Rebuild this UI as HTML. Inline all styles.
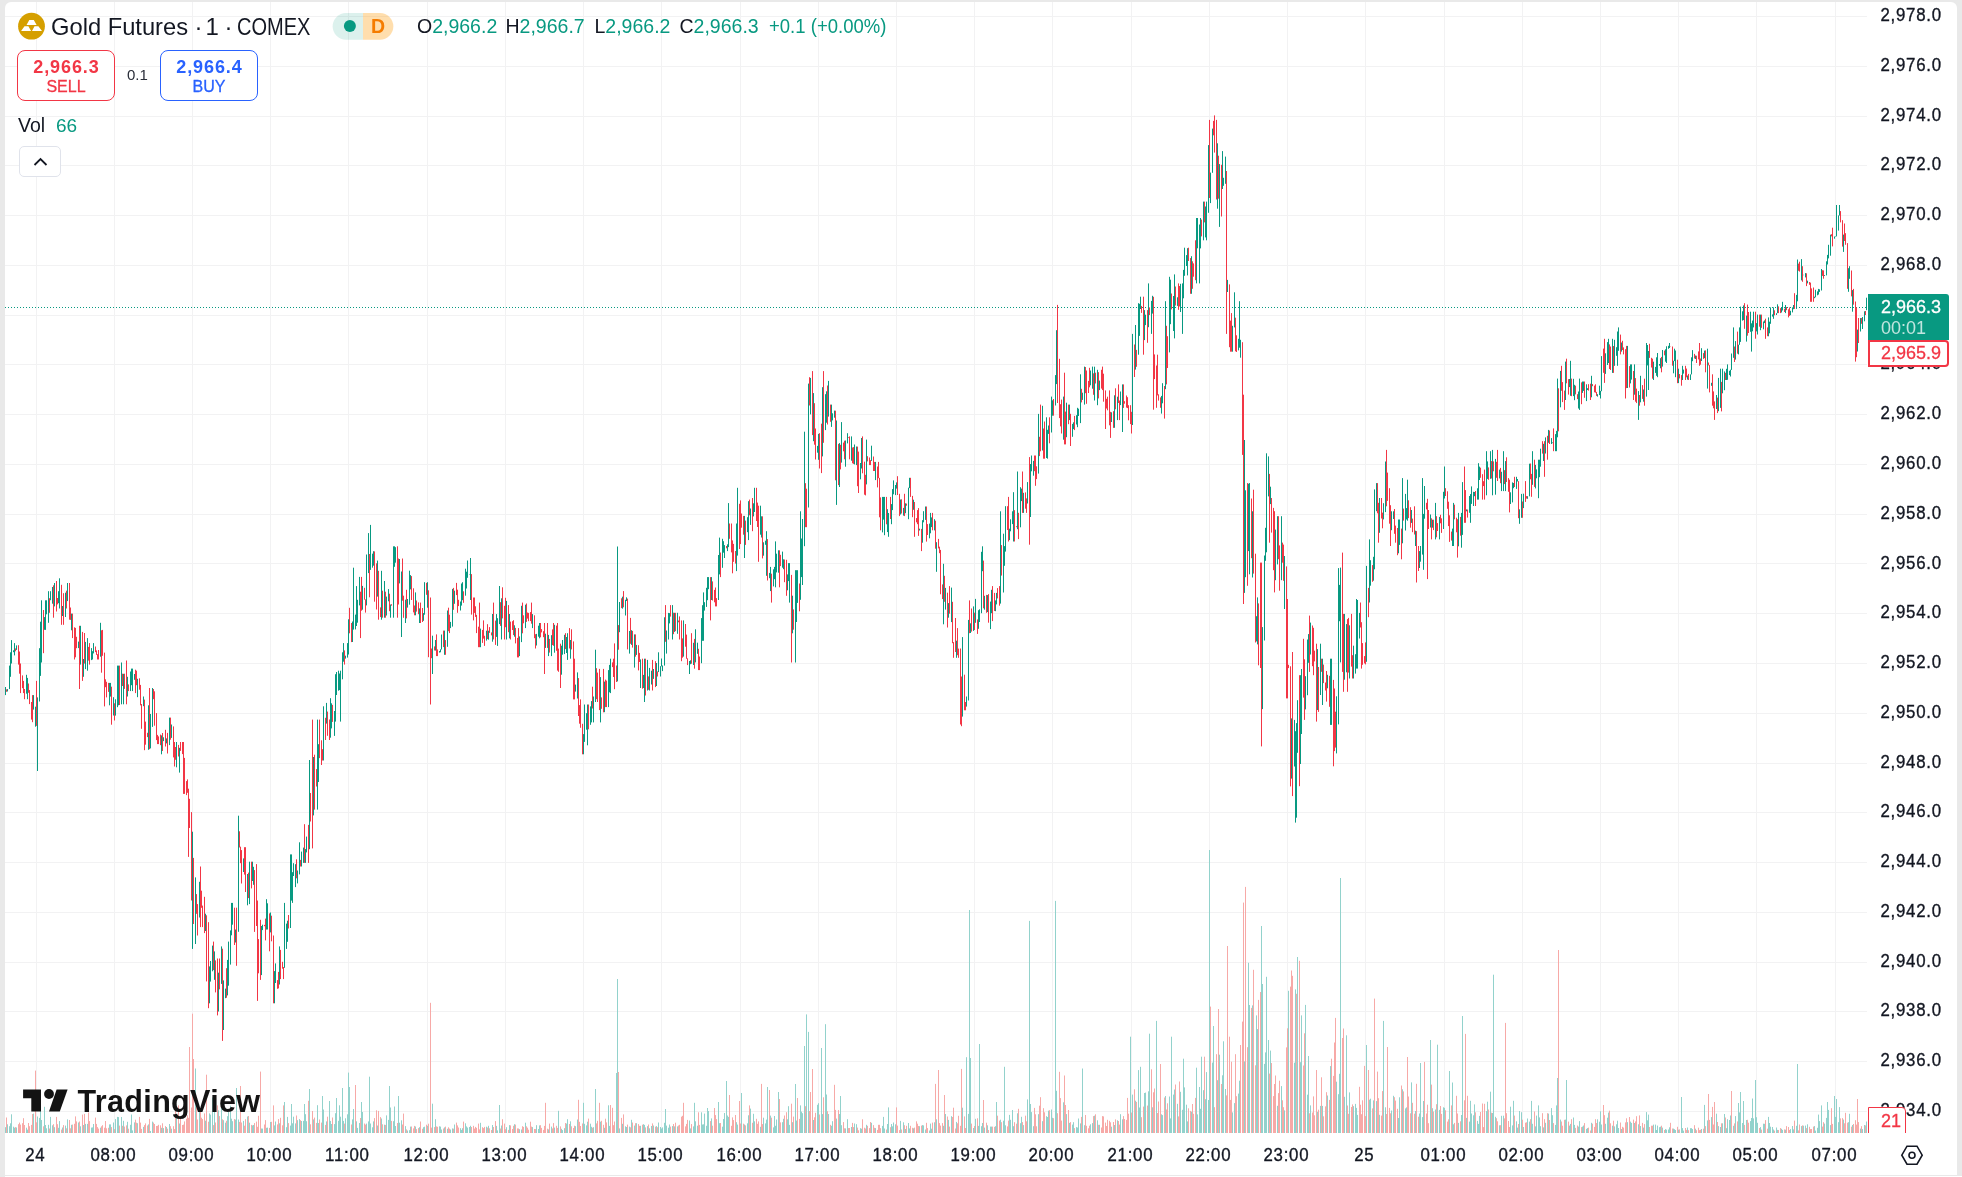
<!DOCTYPE html>
<html><head><meta charset="utf-8"><title>Gold Futures · 1 · COMEX</title>
<style>
html,body{margin:0;padding:0;width:1962px;height:1177px;overflow:hidden;background:#e9e9e9;font-family:"Liberation Sans",Arial,sans-serif;-webkit-font-smoothing:antialiased;}
#txt{position:absolute;left:0;top:0;width:1962px;height:1177px;will-change:transform;}
#panel{position:absolute;left:5px;top:2px;width:1952px;height:1173px;background:#fff;border-radius:6px 6px 0 0;}
#bot{position:absolute;left:5px;top:1176px;width:1957px;height:1px;background:#fff;}
svg{position:absolute;left:0;top:0;}
.pl{position:absolute;left:1868px;width:73.8px;text-align:right;font-size:18px;line-height:22px;color:#131722;white-space:nowrap;-webkit-text-stroke:0.35px #131722;letter-spacing:0.8px;transform:scaleX(0.935);transform-origin:100% 0;}
.tl{position:absolute;top:1144px;width:80px;text-align:center;font-size:18px;line-height:22px;color:#131722;-webkit-text-stroke:0.35px #131722;letter-spacing:0.8px;text-indent:0.8px;transform:scaleX(0.935);transform-origin:50% 0;}
.t{position:absolute;white-space:nowrap;color:#131722;line-height:1;}
.g{color:#089981}
.box{position:absolute;box-sizing:border-box;}
</style></head><body>
<div id="panel"></div><div id="bot"></div>
<svg width="1962" height="1177" viewBox="0 0 1962 1177">
<path d="M36.5 2V1133M114.5 2V1133M192.5 2V1133M270.5 2V1133M348.5 2V1133M427.5 2V1133M505.5 2V1133M583.5 2V1133M661.5 2V1133M740.5 2V1133M818.5 2V1133M896.5 2V1133M974.5 2V1133M1052.5 2V1133M1131.5 2V1133M1209.5 2V1133M1287.5 2V1133M1365.5 2V1133M1444.5 2V1133M1522.5 2V1133M1600.5 2V1133M1678.5 2V1133M1756.5 2V1133M1835.5 2V1133" stroke="#f2f2f3" stroke-width="1" fill="none"/>
<path d="M5 16.5H1867M5 66.5H1867M5 116.5H1867M5 165.5H1867M5 215.5H1867M5 265.5H1867M5 315.5H1867M5 364.5H1867M5 414.5H1867M5 464.5H1867M5 514.5H1867M5 563.5H1867M5 613.5H1867M5 663.5H1867M5 713.5H1867M5 763.5H1867M5 812.5H1867M5 862.5H1867M5 912.5H1867M5 962.5H1867M5 1011.5H1867M5 1061.5H1867M5 1111.5H1867" stroke="#f2f2f3" stroke-width="1" fill="none"/>
<path d="M5.5 1127.2V1133M7.5 1124.3V1133M9.5 1126.2V1133M10.5 1123.3V1133M11.5 1114.3V1133M13.5 1126.7V1133M14.5 1127.7V1133M16.5 1127.5V1133M26.5 1127.7V1133M27.5 1129.6V1133M33.5 1113.6V1133M37.5 1116.5V1133M39.5 1117.9V1133M40.5 1107.1V1133M41.5 1120V1133M44.5 1106.8V1133M45.5 1125V1133M46.5 1128.3V1133M48.5 1124.8V1133M50.5 1116.9V1133M52.5 1125.3V1133M54.5 1127.2V1133M58.5 1127.8V1133M59.5 1121.1V1133M62.5 1127.5V1133M65.5 1125.6V1133M67.5 1119.4V1133M71.5 1124.8V1133M78.5 1122.5V1133M80.5 1126.3V1133M83.5 1125V1133M85.5 1123.9V1133M87.5 1123.9V1133M91.5 1127.6V1133M92.5 1127.4V1133M93.5 1124V1133M100.5 1127.7V1133M109.5 1124.4V1133M110.5 1124.4V1133M113.5 1122.5V1133M115.5 1119.1V1133M117.5 1116.9V1133M118.5 1117.1V1133M121.5 1117V1133M123.5 1120.8V1133M127.5 1121.8V1133M130.5 1124.8V1133M131.5 1114.5V1133M132.5 1130.4V1133M134.5 1122.4V1133M137.5 1123.2V1133M143.5 1126.9V1133M148.5 1124.4V1133M150.5 1131V1133M152.5 1121.6V1133M161.5 1127.8V1133M163.5 1128.1V1133M166.5 1127V1133M169.5 1124V1133M171.5 1128.7V1133M176.5 1118.1V1133M179.5 1123.5V1133M195.5 1068.5V1133M199.5 1108.4V1133M205.5 1120.7V1133M209.5 1113.4V1133M210.5 1114.6V1133M212.5 1097.5V1133M214.5 1112V1133M218.5 1110.3V1133M221.5 1103.4V1133M223.5 1120.2V1133M225.5 1122.7V1133M227.5 1116.2V1133M228.5 1111.8V1133M230.5 1105.7V1133M231.5 1118.7V1133M232.5 1121.2V1133M235.5 1119.6V1133M236.5 1088V1133M238.5 1119.5V1133M243.5 1120.9V1133M247.5 1116.5V1133M249.5 1122.7V1133M252.5 1125.4V1133M253.5 1125V1133M261.5 1128.5V1133M262.5 1128.6V1133M266.5 1127.8V1133M267.5 1127.6V1133M270.5 1122V1133M274.5 1125.4V1133M275.5 1121.5V1133M279.5 1123.3V1133M284.5 1102V1133M286.5 1127.2V1133M287.5 1116.9V1133M290.5 1125.6V1133M291.5 1104V1133M292.5 1123.3V1133M293.5 1116.7V1133M295.5 1123.4V1133M297.5 1120.2V1133M299.5 1119.1V1133M301.5 1121V1133M303.5 1120.9V1133M304.5 1104V1133M305.5 1114.2V1133M306.5 1121.2V1133M309.5 1089V1133M313.5 1119.4V1133M317.5 1105.2V1133M318.5 1123V1133M322.5 1096V1133M323.5 1109.5V1133M326.5 1121.4V1133M329.5 1101V1133M330.5 1120.9V1133M331.5 1124V1133M334.5 1124.1V1133M335.5 1113.2V1133M336.5 1098V1133M338.5 1120.8V1133M339.5 1105.3V1133M340.5 1116.7V1133M342.5 1088V1133M343.5 1120.9V1133M345.5 1118.3V1133M347.5 1114.3V1133M348.5 1072.6V1133M349.5 1087V1133M352.5 1119.4V1133M353.5 1109V1133M356.5 1121.3V1133M357.5 1127.9V1133M359.5 1123V1133M361.5 1102V1133M362.5 1112V1133M366.5 1123.6V1133M368.5 1121.4V1133M369.5 1076.7V1133M370.5 1123.5V1133M372.5 1127.3V1133M373.5 1121.4V1133M377.5 1125.5V1133M381.5 1118.5V1133M384.5 1124.7V1133M386.5 1115.4V1133M388.5 1119.9V1133M389.5 1086V1133M390.5 1107.5V1133M393.5 1121.2V1133M394.5 1106.5V1133M395.5 1126V1133M398.5 1096V1133M399.5 1122.7V1133M401.5 1120.3V1133M405.5 1126.1V1133M407.5 1130.5V1133M409.5 1130.2V1133M410.5 1126.6V1133M415.5 1126.5V1133M419.5 1127.2V1133M423.5 1127.2V1133M424.5 1126.7V1133M427.5 1125.8V1133M432.5 1103.7V1133M435.5 1119.2V1133M439.5 1126.3V1133M440.5 1126.6V1133M441.5 1129.5V1133M444.5 1127.4V1133M447.5 1128.8V1133M450.5 1129.5V1133M452.5 1128.4V1133M454.5 1124.5V1133M460.5 1128.2V1133M461.5 1129.9V1133M462.5 1128.2V1133M465.5 1123.3V1133M466.5 1126.4V1133M467.5 1127.6V1133M469.5 1127V1133M470.5 1125.8V1133M480.5 1122.8V1133M486.5 1126.7V1133M488.5 1125.8V1133M492.5 1125V1133M496.5 1125.9V1133M497.5 1130.4V1133M499.5 1105V1133M501.5 1125.5V1133M506.5 1127.2V1133M509.5 1125.1V1133M514.5 1124.2V1133M519.5 1129.2V1133M521.5 1129.5V1133M525.5 1122.7V1133M532.5 1127.1V1133M536.5 1125.2V1133M538.5 1129V1133M539.5 1125.4V1133M548.5 1129.4V1133M551.5 1126.6V1133M554.5 1127.6V1133M558.5 1110.8V1133M561.5 1128.8V1133M562.5 1130.1V1133M564.5 1128.2V1133M566.5 1123.6V1133M567.5 1119.2V1133M570.5 1121.3V1133M575.5 1126.2V1133M577.5 1119.5V1133M583.5 1102.8V1133M584.5 1123.8V1133M586.5 1125.4V1133M587.5 1121.7V1133M590.5 1123.7V1133M591.5 1126.8V1133M593.5 1127.2V1133M595.5 1089V1133M600.5 1121.7V1133M604.5 1127.8V1133M608.5 1105.3V1133M609.5 1125.9V1133M616.5 1073V1133M617.5 979V1133M619.5 1128.4V1133M622.5 1123.8V1133M625.5 1126.3V1133M626.5 1127V1133M629.5 1126.6V1133M631.5 1119.8V1133M634.5 1125.6V1133M636.5 1123.2V1133M640.5 1125.8V1133M643.5 1124.2V1133M644.5 1124.9V1133M647.5 1126.2V1133M649.5 1128.3V1133M651.5 1126V1133M653.5 1125.5V1133M656.5 1126.1V1133M658.5 1122.5V1133M660.5 1127V1133M661.5 1128.5V1133M662.5 1127.4V1133M664.5 1122.8V1133M665.5 1109V1133M666.5 1125.6V1133M668.5 1127.7V1133M669.5 1124.5V1133M672.5 1126.1V1133M674.5 1126.4V1133M677.5 1126.4V1133M689.5 1120.5V1133M690.5 1128.4V1133M693.5 1126.4V1133M694.5 1102.8V1133M695.5 1121.3V1133M697.5 1125.7V1133M701.5 1112.3V1133M702.5 1124.5V1133M703.5 1124.3V1133M704.5 1113.6V1133M706.5 1125.8V1133M707.5 1108V1133M708.5 1111V1133M711.5 1118.4V1133M718.5 1102V1133M719.5 1123.2V1133M722.5 1126.7V1133M723.5 1119V1133M724.5 1113V1133M726.5 1081V1133M727.5 1115.5V1133M728.5 1116.9V1133M736.5 1122.2V1133M737.5 1124.6V1133M741.5 1093V1133M744.5 1124.5V1133M747.5 1123.3V1133M748.5 1115.3V1133M750.5 1108.6V1133M753.5 1113.8V1133M754.5 1121.3V1133M760.5 1126.8V1133M763.5 1117.7V1133M765.5 1123.4V1133M766.5 1119.6V1133M767.5 1087V1133M770.5 1115.6V1133M773.5 1127.4V1133M774.5 1116V1133M775.5 1125.8V1133M776.5 1119.5V1133M778.5 1092V1133M782.5 1122.2V1133M783.5 1118.8V1133M787.5 1119.3V1133M788.5 1106.2V1133M789.5 1124.9V1133M792.5 1122.2V1133M795.5 1084V1133M796.5 1120.5V1133M800.5 1105.4V1133M801.5 1111.6V1133M802.5 1113.2V1133M804.5 1046V1133M806.5 1014.4V1133M808.5 1031.9V1133M813.5 1120V1133M817.5 1104.8V1133M818.5 1103.2V1133M821.5 1048V1133M822.5 1114.1V1133M825.5 1024.2V1133M826.5 1094.5V1133M828.5 1114V1133M831.5 1125.8V1133M832.5 1121.2V1133M836.5 1118.6V1133M839.5 1114V1133M840.5 1096V1133M841.5 1125.2V1133M845.5 1128.4V1133M847.5 1119.2V1133M851.5 1127V1133M854.5 1123.5V1133M856.5 1124.2V1133M860.5 1128.2V1133M861.5 1128.7V1133M866.5 1124.8V1133M871.5 1122.8V1133M875.5 1128.1V1133M882.5 1125.9V1133M883.5 1116.9V1133M884.5 1128.5V1133M887.5 1124V1133M888.5 1107.4V1133M891.5 1124V1133M892.5 1126.3V1133M893.5 1122.5V1133M895.5 1124.3V1133M900.5 1120.9V1133M903.5 1122.3V1133M905.5 1129V1133M908.5 1123V1133M909.5 1128.4V1133M913.5 1128.3V1133M919.5 1126.2V1133M922.5 1125.1V1133M923.5 1125.4V1133M925.5 1129.5V1133M929.5 1130.5V1133M930.5 1123.6V1133M931.5 1128.7V1133M934.5 1122.3V1133M936.5 1119.3V1133M943.5 1125.8V1133M945.5 1114V1133M948.5 1119.9V1133M951.5 1116.2V1133M956.5 1121.9V1133M962.5 1107.7V1133M966.5 1057.2V1133M968.5 1113.9V1133M969.5 910V1133M970.5 1058V1133M973.5 1128V1133M975.5 1118.8V1133M978.5 1125.9V1133M979.5 1044V1133M981.5 1126.2V1133M982.5 1123V1133M984.5 1127.6V1133M987.5 1125.3V1133M990.5 1126.6V1133M991.5 1126.6V1133M995.5 1126.2V1133M996.5 1102V1133M1000.5 1119.7V1133M1003.5 1120.7V1133M1004.5 1066.8V1133M1005.5 1125.3V1133M1009.5 1114.9V1133M1010.5 1119.8V1133M1012.5 1110V1133M1013.5 1126.2V1133M1017.5 1113.3V1133M1020.5 1123.2V1133M1021.5 1116.8V1133M1023.5 1125.1V1133M1027.5 1099.4V1133M1029.5 920.9V1133M1030.5 1104V1133M1031.5 1112.1V1133M1033.5 1126.2V1133M1038.5 1114.2V1133M1042.5 1121.2V1133M1046.5 1116.2V1133M1047.5 1117V1133M1048.5 1110.7V1133M1051.5 1109.5V1133M1052.5 1117.8V1133M1055.5 900.9V1133M1056.5 1090.8V1133M1063.5 1102.3V1133M1066.5 1114.1V1133M1069.5 1122.9V1133M1072.5 1124.6V1133M1073.5 1122.2V1133M1076.5 1127.1V1133M1077.5 1127.5V1133M1078.5 1118.5V1133M1080.5 1123.4V1133M1082.5 1068.5V1133M1084.5 1125.2V1133M1090.5 1124.3V1133M1092.5 1123.1V1133M1094.5 1115.7V1133M1097.5 1120.3V1133M1099.5 1124.8V1133M1111.5 1126.7V1133M1114.5 1125V1133M1117.5 1120.3V1133M1120.5 1114.2V1133M1122.5 1119.3V1133M1130.5 1036.7V1133M1132.5 1094.6V1133M1135.5 1100.7V1133M1138.5 1070.1V1133M1139.5 1107.5V1133M1140.5 1066.8V1133M1144.5 1093V1133M1145.5 1092.6V1133M1148.5 1091.3V1133M1149.5 1033.7V1133M1152.5 1107.3V1133M1156.5 1020.9V1133M1161.5 1114.3V1133M1162.5 1115.1V1133M1165.5 1096V1133M1169.5 1096.5V1133M1170.5 1118.4V1133M1171.5 1036.7V1133M1173.5 1094.6V1133M1174.5 1089.5V1133M1177.5 1103.8V1133M1180.5 1091.8V1133M1182.5 1109.8V1133M1183.5 1058.7V1133M1184.5 1087.4V1133M1186.5 1104.7V1133M1187.5 1121.4V1133M1191.5 1111.7V1133M1196.5 1067.7V1133M1197.5 1114.4V1133M1199.5 1087V1133M1200.5 1108.8V1133M1201.5 1056.7V1133M1203.5 1090.2V1133M1205.5 1099.2V1133M1206.5 1072.1V1133M1208.5 1100V1133M1209.5 850V1133M1212.5 1062.6V1133M1213.5 1026V1133M1217.5 1080.2V1133M1219.5 1054.7V1133M1222.5 1075.3V1133M1223.5 1041.3V1133M1225.5 1089V1133M1232.5 1112.4V1133M1234.5 1103.1V1133M1238.5 1093.6V1133M1239.5 1080.7V1133M1244.5 1061.4V1133M1248.5 962.8V1133M1249.5 1005V1133M1252.5 1005.4V1133M1256.5 1015.4V1133M1257.5 1029.1V1133M1261.5 926V1133M1262.5 984V1133M1264.5 1063.9V1133M1265.5 1052.4V1133M1266.5 976.8V1133M1268.5 1040V1133M1270.5 1050.6V1133M1277.5 1105.8V1133M1281.5 1086.1V1133M1284.5 1110.4V1133M1288.5 990.8V1133M1294.5 1062.7V1133M1295.5 989.4V1133M1297.5 957V1133M1300.5 1062.2V1133M1301.5 1015.4V1133M1305.5 1004.9V1133M1307.5 1094.7V1133M1308.5 1056V1133M1310.5 1105.4V1133M1317.5 1111.8V1133M1320.5 1105.9V1133M1322.5 1105.9V1133M1327.5 1095.5V1133M1330.5 1066.1V1133M1336.5 1081.7V1133M1338.5 1094.2V1133M1339.5 1073.8V1133M1340.5 878V1133M1344.5 1096.8V1133M1346.5 1035.3V1133M1349.5 1092.4V1133M1353.5 1106.1V1133M1355.5 1103.9V1133M1356.5 1107.9V1133M1357.5 1114.9V1133M1366.5 1045V1133M1369.5 1099.7V1133M1370.5 1098.7V1133M1373.5 1100.4V1133M1376.5 1101.1V1133M1379.5 1114.8V1133M1383.5 1020.9V1133M1385.5 1107.3V1133M1391.5 1110.5V1133M1393.5 1095.8V1133M1398.5 1118V1133M1399.5 1097.3V1133M1402.5 1089.3V1133M1405.5 1108.4V1133M1406.5 1107.4V1133M1411.5 1082.4V1133M1415.5 1111V1133M1419.5 1113.5V1133M1420.5 1063V1133M1422.5 1117.1V1133M1423.5 1101V1133M1430.5 1040V1133M1432.5 1108.2V1133M1435.5 1109.5V1133M1437.5 1044.7V1133M1439.5 1109.9V1133M1443.5 1107.3V1133M1444.5 1107.8V1133M1449.5 1071V1133M1452.5 1082.5V1133M1453.5 1124.3V1133M1458.5 1122.9V1133M1461.5 1115V1133M1462.5 1016V1133M1466.5 1117.9V1133M1469.5 1121.6V1133M1470.5 1100.8V1133M1471.5 1113.5V1133M1473.5 1115.3V1133M1474.5 1104.4V1133M1477.5 1120.9V1133M1478.5 1123.9V1133M1479.5 1115.9V1133M1486.5 1111.1V1133M1487.5 1101.7V1133M1490.5 1091.7V1133M1492.5 1113V1133M1493.5 974.7V1133M1495.5 1116.8V1133M1499.5 1125.3V1133M1501.5 1115.8V1133M1503.5 1115.7V1133M1510.5 1106.7V1133M1512.5 1125.4V1133M1513.5 1100.8V1133M1516.5 1121.3V1133M1517.5 1127.6V1133M1519.5 1111V1133M1521.5 1112.2V1133M1523.5 1127V1133M1527.5 1118.5V1133M1529.5 1121.6V1133M1531.5 1100.9V1133M1532.5 1123.8V1133M1535.5 1126.4V1133M1536.5 1115.6V1133M1538.5 1105.4V1133M1539.5 1117.4V1133M1540.5 1126.2V1133M1543.5 1127.4V1133M1545.5 1122.8V1133M1548.5 1113.6V1133M1551.5 1108.1V1133M1552.5 1115.2V1133M1555.5 1124.9V1133M1556.5 1105.4V1133M1557.5 1078V1133M1560.5 1119.6V1133M1565.5 1119.6V1133M1566.5 1080V1133M1569.5 1125.6V1133M1570.5 1123.9V1133M1573.5 1117.5V1133M1574.5 1124.9V1133M1578.5 1126.6V1133M1579.5 1121.1V1133M1582.5 1126.6V1133M1583.5 1125.5V1133M1586.5 1128.9V1133M1587.5 1128.1V1133M1591.5 1122.8V1133M1597.5 1119.3V1133M1599.5 1121.7V1133M1600.5 1111.3V1133M1601.5 1124.5V1133M1605.5 1123.8V1133M1607.5 1117.7V1133M1608.5 1112.6V1133M1612.5 1125.7V1133M1614.5 1126.4V1133M1616.5 1124.3V1133M1617.5 1120.7V1133M1618.5 1128V1133M1621.5 1129V1133M1627.5 1122.2V1133M1630.5 1121.6V1133M1631.5 1122.9V1133M1634.5 1123V1133M1638.5 1124.3V1133M1640.5 1126V1133M1643.5 1127.6V1133M1646.5 1112.1V1133M1647.5 1120.3V1133M1648.5 1114.6V1133M1653.5 1124.6V1133M1655.5 1124.6V1133M1656.5 1130V1133M1657.5 1125.6V1133M1659.5 1127.2V1133M1660.5 1126.7V1133M1662.5 1127.6V1133M1665.5 1129.1V1133M1666.5 1129.7V1133M1668.5 1129.5V1133M1669.5 1127.3V1133M1673.5 1128.6V1133M1674.5 1129.2V1133M1675.5 1130V1133M1678.5 1129.7V1133M1681.5 1097V1133M1682.5 1128.1V1133M1683.5 1130.6V1133M1687.5 1127.5V1133M1690.5 1128.2V1133M1691.5 1128.2V1133M1692.5 1129.1V1133M1695.5 1128.7V1133M1701.5 1129V1133M1704.5 1104.9V1133M1707.5 1120.4V1133M1711.5 1117.1V1133M1716.5 1113.7V1133M1718.5 1126.1V1133M1720.5 1127V1133M1722.5 1123.3V1133M1724.5 1114V1133M1726.5 1128.2V1133M1727.5 1119.2V1133M1729.5 1120V1133M1730.5 1115.5V1133M1733.5 1125.8V1133M1735.5 1116.1V1133M1738.5 1103V1133M1739.5 1112.4V1133M1740.5 1092V1133M1742.5 1123V1133M1743.5 1101V1133M1746.5 1120V1133M1750.5 1121.1V1133M1751.5 1118V1133M1752.5 1098.5V1133M1753.5 1118.4V1133M1755.5 1080V1133M1756.5 1117.2V1133M1757.5 1122.8V1133M1760.5 1127.1V1133M1763.5 1123.7V1133M1764.5 1123.8V1133M1768.5 1116.9V1133M1769.5 1123V1133M1770.5 1126.7V1133M1772.5 1127V1133M1773.5 1129.5V1133M1776.5 1127.5V1133M1777.5 1129.9V1133M1781.5 1128.8V1133M1782.5 1129.9V1133M1785.5 1129.7V1133M1790.5 1129.1V1133M1792.5 1126V1133M1793.5 1129.4V1133M1796.5 1125.8V1133M1797.5 1064V1133M1801.5 1126.1V1133M1803.5 1125.7V1133M1805.5 1125.6V1133M1807.5 1124.3V1133M1814.5 1126.1V1133M1815.5 1130.6V1133M1817.5 1127.8V1133M1818.5 1114.6V1133M1819.5 1121.1V1133M1821.5 1105.4V1133M1824.5 1123.6V1133M1826.5 1117.9V1133M1827.5 1102V1133M1828.5 1109.9V1133M1830.5 1125.1V1133M1834.5 1096V1133M1835.5 1116.9V1133M1836.5 1099V1133M1838.5 1122.2V1133M1839.5 1107.1V1133M1843.5 1119.6V1133M1848.5 1122.2V1133M1849.5 1113.8V1133M1852.5 1125V1133M1860.5 1128.6V1133M1862.5 1129.1V1133M1864.5 1125V1133M1866.5 1121.5V1133" stroke="#92d2cc" stroke-width="1" fill="none"/>
<path d="M6.5 1117.5V1133M15.5 1127.1V1133M18.5 1124.2V1133M19.5 1122.6V1133M20.5 1124.6V1133M22.5 1123.2V1133M23.5 1118.2V1133M24.5 1125V1133M28.5 1123V1133M29.5 1126.2V1133M31.5 1124.9V1133M32.5 1114V1133M35.5 1070.6V1133M36.5 1122.3V1133M43.5 1126.3V1133M49.5 1128.5V1133M53.5 1124.2V1133M56.5 1116.9V1133M57.5 1124.2V1133M61.5 1129.6V1133M63.5 1125.1V1133M66.5 1128.3V1133M69.5 1120V1133M70.5 1128.3V1133M72.5 1124.6V1133M74.5 1123.8V1133M75.5 1116.4V1133M76.5 1121.4V1133M79.5 1121.5V1133M82.5 1114.6V1133M84.5 1113.9V1133M88.5 1112.5V1133M89.5 1121.1V1133M95.5 1117.6V1133M96.5 1123.9V1133M97.5 1127.1V1133M98.5 1128.6V1133M101.5 1126.3V1133M102.5 1125.2V1133M104.5 1127.7V1133M105.5 1121V1133M106.5 1128.3V1133M108.5 1127.8V1133M111.5 1127.1V1133M114.5 1129.1V1133M119.5 1125.6V1133M122.5 1125.8V1133M124.5 1126.6V1133M126.5 1125.4V1133M128.5 1128.7V1133M135.5 1119.7V1133M136.5 1122.7V1133M139.5 1116.9V1133M140.5 1122.6V1133M141.5 1128.9V1133M144.5 1125.1V1133M145.5 1123.4V1133M147.5 1125.5V1133M149.5 1118.9V1133M153.5 1122.6V1133M154.5 1124V1133M156.5 1126V1133M157.5 1125.8V1133M158.5 1124.8V1133M160.5 1125.3V1133M162.5 1123.3V1133M165.5 1126.1V1133M167.5 1128.7V1133M170.5 1126.2V1133M173.5 1126.2V1133M174.5 1129.1V1133M175.5 1111.1V1133M178.5 1105.4V1133M180.5 1116.9V1133M182.5 1125V1133M183.5 1124.6V1133M184.5 1121.4V1133M186.5 1118.7V1133M187.5 1115.3V1133M188.5 1117.8V1133M189.5 1047V1133M191.5 1107.5V1133M192.5 1013.7V1133M193.5 1059V1133M196.5 1098.3V1133M197.5 1119.5V1133M200.5 1108.1V1133M201.5 1117.7V1133M202.5 1119.1V1133M204.5 1113.4V1133M206.5 1074.7V1133M208.5 1121.7V1133M213.5 1125.1V1133M215.5 1122.5V1133M217.5 1105.4V1133M219.5 1116.1V1133M222.5 1119.3V1133M226.5 1120.8V1133M234.5 1119.1V1133M239.5 1121.9V1133M240.5 1086V1133M241.5 1122.5V1133M244.5 1125.7V1133M245.5 1119.2V1133M248.5 1116V1133M251.5 1124.9V1133M254.5 1123.1V1133M256.5 1121.6V1133M257.5 1126.8V1133M258.5 1115.8V1133M260.5 1071.6V1133M264.5 1124.5V1133M265.5 1120.1V1133M269.5 1127.9V1133M271.5 1121.8V1133M273.5 1105.4V1133M277.5 1124.4V1133M278.5 1119.1V1133M280.5 1117.8V1133M282.5 1125.3V1133M283.5 1105.4V1133M288.5 1123.1V1133M296.5 1115.5V1133M300.5 1120.2V1133M308.5 1100.8V1133M310.5 1124.3V1133M312.5 1111V1133M314.5 1117.6V1133M316.5 1122.9V1133M319.5 1119.5V1133M321.5 1122.6V1133M325.5 1124.9V1133M327.5 1116.7V1133M332.5 1117.5V1133M344.5 1123.6V1133M351.5 1124.5V1133M355.5 1085V1133M360.5 1118V1133M364.5 1123.5V1133M365.5 1124.6V1133M374.5 1118.1V1133M376.5 1110.3V1133M378.5 1110.9V1133M380.5 1117.1V1133M382.5 1124.3V1133M385.5 1124.9V1133M391.5 1120.9V1133M397.5 1123V1133M402.5 1124.5V1133M403.5 1113.6V1133M406.5 1129.4V1133M411.5 1126.5V1133M413.5 1128.4V1133M414.5 1125.9V1133M416.5 1129.1V1133M418.5 1128.1V1133M420.5 1121.5V1133M422.5 1128.8V1133M426.5 1124.7V1133M428.5 1123.7V1133M430.5 1002.8V1133M431.5 1127.6V1133M434.5 1127.1V1133M436.5 1126.4V1133M437.5 1126.8V1133M443.5 1128.5V1133M445.5 1126.6V1133M448.5 1127.3V1133M449.5 1128.6V1133M453.5 1128.7V1133M456.5 1122.6V1133M457.5 1125.4V1133M458.5 1127.5V1133M463.5 1121.6V1133M471.5 1127V1133M473.5 1125.8V1133M474.5 1128.6V1133M475.5 1126.9V1133M476.5 1127.8V1133M478.5 1123.6V1133M479.5 1129.4V1133M482.5 1127.2V1133M483.5 1128.1V1133M484.5 1126.9V1133M487.5 1127.5V1133M489.5 1128.3V1133M491.5 1130V1133M493.5 1127V1133M495.5 1121.1V1133M500.5 1128.5V1133M502.5 1119.2V1133M504.5 1123.6V1133M505.5 1129.2V1133M508.5 1129.9V1133M510.5 1125.4V1133M512.5 1129V1133M513.5 1125.8V1133M515.5 1124.6V1133M517.5 1128.4V1133M518.5 1128.5V1133M522.5 1126.2V1133M523.5 1126.9V1133M526.5 1126.3V1133M527.5 1127.7V1133M528.5 1129.7V1133M530.5 1121.7V1133M531.5 1126.6V1133M534.5 1129V1133M535.5 1129.1V1133M540.5 1125.2V1133M541.5 1127.9V1133M543.5 1129.9V1133M544.5 1125.9V1133M545.5 1102.8V1133M547.5 1128.7V1133M549.5 1123.6V1133M552.5 1128.4V1133M553.5 1123.1V1133M556.5 1125.8V1133M557.5 1127.9V1133M560.5 1126.4V1133M565.5 1123V1133M569.5 1124V1133M571.5 1126.3V1133M573.5 1128V1133M574.5 1125.7V1133M578.5 1099.8V1133M579.5 1121.8V1133M580.5 1126V1133M582.5 1123.5V1133M588.5 1118.6V1133M592.5 1127.7V1133M596.5 1123.4V1133M597.5 1120.8V1133M599.5 1102.8V1133M601.5 1120.8V1133M603.5 1124.8V1133M605.5 1118.7V1133M606.5 1122.4V1133M610.5 1105V1133M612.5 1107.8V1133M613.5 1125.2V1133M614.5 1121.5V1133M618.5 1072V1133M621.5 1117.9V1133M623.5 1114.4V1133M627.5 1124.6V1133M630.5 1127.3V1133M632.5 1122.5V1133M635.5 1123.2V1133M638.5 1124.1V1133M639.5 1125.8V1133M642.5 1124.7V1133M645.5 1127.4V1133M648.5 1124.5V1133M652.5 1123.4V1133M655.5 1126.7V1133M657.5 1127.2V1133M670.5 1126.6V1133M673.5 1124V1133M675.5 1122.7V1133M678.5 1125.5V1133M679.5 1124.8V1133M681.5 1116.7V1133M682.5 1115.8V1133M683.5 1102.8V1133M685.5 1126.4V1133M686.5 1123.9V1133M687.5 1119.9V1133M691.5 1124.1V1133M698.5 1112.3V1133M699.5 1124.9V1133M710.5 1121.1V1133M712.5 1125.7V1133M714.5 1108V1133M715.5 1115.1V1133M716.5 1119.1V1133M720.5 1123V1133M729.5 1095V1133M731.5 1125.8V1133M732.5 1117.4V1133M733.5 1120.1V1133M735.5 1115V1133M739.5 1101V1133M740.5 1123.5V1133M743.5 1123.7V1133M745.5 1125.4V1133M749.5 1105.4V1133M752.5 1122.8V1133M756.5 1118.8V1133M757.5 1123.8V1133M758.5 1121.4V1133M761.5 1083.9V1133M762.5 1124.1V1133M769.5 1090V1133M771.5 1117.7V1133M779.5 1099V1133M780.5 1122.4V1133M784.5 1115.5V1133M786.5 1112.2V1133M791.5 1103.7V1133M793.5 1116.6V1133M797.5 1098V1133M799.5 1118.9V1133M805.5 1106.2V1133M809.5 1111V1133M810.5 1092V1133M812.5 1069V1133M814.5 1117.3V1133M815.5 1112.8V1133M819.5 1114.5V1133M823.5 1097.3V1133M827.5 1111.2V1133M830.5 1124.8V1133M834.5 1084.8V1133M835.5 1109.9V1133M838.5 1110.1V1133M843.5 1122.1V1133M844.5 1128.3V1133M848.5 1128.1V1133M849.5 1128V1133M852.5 1122.9V1133M853.5 1127.1V1133M857.5 1127.6V1133M858.5 1130.3V1133M862.5 1119.3V1133M864.5 1127.7V1133M865.5 1128.5V1133M867.5 1125.8V1133M869.5 1128.1V1133M870.5 1122V1133M873.5 1125.1V1133M874.5 1127.8V1133M877.5 1129.9V1133M878.5 1124.8V1133M879.5 1124.8V1133M880.5 1128.2V1133M886.5 1129.5V1133M890.5 1127.2V1133M896.5 1107.4V1133M897.5 1125.6V1133M899.5 1130.1V1133M901.5 1129.5V1133M904.5 1125.2V1133M906.5 1125.8V1133M910.5 1125.8V1133M912.5 1127.8V1133M914.5 1127.6V1133M916.5 1121.3V1133M917.5 1123.7V1133M918.5 1126V1133M921.5 1125.6V1133M926.5 1122.8V1133M927.5 1128.1V1133M932.5 1122.6V1133M935.5 1083.9V1133M938.5 1070V1133M939.5 1123.1V1133M940.5 1125.6V1133M942.5 1123.1V1133M944.5 1095V1133M947.5 1116.5V1133M949.5 1126.6V1133M952.5 1117V1133M953.5 1107.7V1133M955.5 1128.5V1133M957.5 1123.3V1133M958.5 1115.8V1133M960.5 1125.8V1133M961.5 1068.9V1133M964.5 1116.4V1133M965.5 1128V1133M971.5 1123.6V1133M974.5 1126V1133M977.5 1118.3V1133M983.5 1100V1133M986.5 1122.7V1133M988.5 1130V1133M992.5 1126.6V1133M994.5 1126.9V1133M997.5 1115.7V1133M999.5 1120.6V1133M1001.5 1122.2V1133M1007.5 1126.4V1133M1008.5 1120.6V1133M1014.5 1122.2V1133M1016.5 1123.7V1133M1018.5 1108.8V1133M1022.5 1122.1V1133M1025.5 1115.7V1133M1026.5 1121.3V1133M1034.5 1107.9V1133M1035.5 1114.3V1133M1036.5 1126.3V1133M1039.5 1105.7V1133M1040.5 1097.2V1133M1043.5 1108.2V1133M1044.5 1112.3V1133M1049.5 1110.2V1133M1053.5 1118.2V1133M1057.5 1113.2V1133M1059.5 1071.8V1133M1060.5 1098.1V1133M1061.5 1120.6V1133M1064.5 1075.5V1133M1065.5 1105V1133M1068.5 1110V1133M1070.5 1122.1V1133M1074.5 1128.1V1133M1081.5 1116.9V1133M1085.5 1115V1133M1086.5 1125.8V1133M1088.5 1128.3V1133M1089.5 1125.7V1133M1093.5 1116.1V1133M1095.5 1114.3V1133M1098.5 1124.8V1133M1101.5 1127.5V1133M1102.5 1116.1V1133M1103.5 1116.4V1133M1105.5 1122.6V1133M1106.5 1126V1133M1107.5 1119.8V1133M1109.5 1120.8V1133M1110.5 1122.3V1133M1113.5 1122V1133M1115.5 1119.4V1133M1118.5 1121V1133M1119.5 1124.6V1133M1123.5 1116.1V1133M1124.5 1119V1133M1126.5 1119.9V1133M1127.5 1097.9V1133M1128.5 1113.7V1133M1131.5 1112.6V1133M1134.5 1089.3V1133M1136.5 1101.9V1133M1141.5 1117.2V1133M1143.5 1106.6V1133M1147.5 1105.6V1133M1151.5 1069.3V1133M1153.5 1092.3V1133M1154.5 1088.5V1133M1157.5 1113V1133M1158.5 1101.5V1133M1160.5 1064V1133M1164.5 1097.5V1133M1166.5 1109.5V1133M1167.5 1103.3V1133M1175.5 1084.5V1133M1178.5 1116.4V1133M1179.5 1081.5V1133M1188.5 1108.3V1133M1190.5 1110.9V1133M1192.5 1104V1133M1193.5 1113.8V1133M1195.5 1097.9V1133M1204.5 1056.7V1133M1210.5 1006.6V1133M1214.5 1107.2V1133M1216.5 1054.2V1133M1218.5 1009V1133M1221.5 1084V1133M1226.5 1095.4V1133M1227.5 946V1133M1229.5 1036.7V1133M1230.5 1099.9V1133M1231.5 1061.7V1133M1235.5 1054.2V1133M1236.5 1096.2V1133M1240.5 1045V1133M1242.5 1021.6V1133M1243.5 902.6V1133M1245.5 886.9V1133M1247.5 1047.2V1133M1251.5 1007.9V1133M1253.5 969.8V1133M1255.5 1065.3V1133M1258.5 999.9V1133M1260.5 992V1133M1269.5 1073.6V1133M1271.5 1063V1133M1273.5 1096.1V1133M1274.5 1084V1133M1275.5 1075.5V1133M1278.5 1093.1V1133M1279.5 1080.7V1133M1282.5 1100.3V1133M1283.5 1107.2V1133M1286.5 1047.4V1133M1287.5 1028.3V1133M1290.5 986.6V1133M1291.5 970.5V1133M1292.5 975.8V1133M1296.5 993.8V1133M1299.5 960.8V1133M1303.5 1065.5V1133M1304.5 1033.3V1133M1309.5 1113.3V1133M1312.5 1112.5V1133M1313.5 1096.4V1133M1314.5 1115.3V1133M1316.5 1070V1133M1318.5 1109.7V1133M1321.5 1077.3V1133M1323.5 1116.3V1133M1325.5 1106.4V1133M1326.5 1092.2V1133M1329.5 1099.9V1133M1331.5 1058.7V1133M1333.5 1075.9V1133M1334.5 1042.5V1133M1335.5 1017.9V1133M1342.5 1038V1133M1343.5 1028.5V1133M1347.5 1105.5V1133M1348.5 1113.8V1133M1351.5 1107V1133M1352.5 1104.4V1133M1359.5 1086.8V1133M1360.5 1104.7V1133M1361.5 1114.2V1133M1362.5 1100.3V1133M1364.5 1065.9V1133M1365.5 1116.1V1133M1368.5 1070V1133M1372.5 1108.4V1133M1374.5 998.6V1133M1377.5 1071.6V1133M1378.5 1098.2V1133M1381.5 1115.6V1133M1382.5 1091.1V1133M1386.5 1114V1133M1387.5 1047V1133M1389.5 1107.9V1133M1390.5 1113.3V1133M1394.5 1097.2V1133M1395.5 1100.6V1133M1397.5 1108.8V1133M1401.5 1085.5V1133M1403.5 1091.4V1133M1407.5 1057V1133M1408.5 1096.5V1133M1410.5 1113.3V1133M1412.5 1102.8V1133M1414.5 1113.7V1133M1416.5 1083.8V1133M1418.5 1116.7V1133M1424.5 1061.9V1133M1426.5 1113.5V1133M1427.5 1104.7V1133M1428.5 1123.2V1133M1431.5 1084.6V1133M1433.5 1111.5V1133M1436.5 1104.2V1133M1440.5 1106V1133M1441.5 1113.9V1133M1445.5 1110.3V1133M1447.5 1121.6V1133M1448.5 1119.3V1133M1451.5 1105.4V1133M1454.5 1122.9V1133M1456.5 1095.8V1133M1457.5 1113.5V1133M1460.5 1121.3V1133M1464.5 1100.3V1133M1465.5 1033.9V1133M1467.5 1095.8V1133M1475.5 1112.3V1133M1480.5 1112V1133M1482.5 1103.5V1133M1483.5 1127.1V1133M1484.5 1103.8V1133M1488.5 1109.5V1133M1491.5 1112.7V1133M1496.5 1118.2V1133M1497.5 1121.3V1133M1500.5 1125.2V1133M1504.5 1118.4V1133M1505.5 1022.9V1133M1506.5 1113.2V1133M1508.5 1121V1133M1509.5 1127V1133M1514.5 1115.6V1133M1518.5 1124V1133M1522.5 1119.7V1133M1525.5 1122.7V1133M1526.5 1122.3V1133M1530.5 1119.2V1133M1534.5 1111.5V1133M1542.5 1113.2V1133M1544.5 1119.2V1133M1547.5 1113.2V1133M1549.5 1120V1133M1553.5 1123.1V1133M1558.5 950V1133M1561.5 1121.5V1133M1562.5 1125.7V1133M1564.5 1119.8V1133M1568.5 1121.6V1133M1571.5 1119.2V1133M1575.5 1127.9V1133M1577.5 1125.5V1133M1581.5 1127.1V1133M1584.5 1123.1V1133M1588.5 1127.6V1133M1590.5 1130.5V1133M1592.5 1123.7V1133M1594.5 1126.9V1133M1595.5 1119.2V1133M1596.5 1123V1133M1603.5 1105V1133M1604.5 1115.2V1133M1609.5 1110.7V1133M1610.5 1123.3V1133M1613.5 1120.7V1133M1620.5 1122.5V1133M1622.5 1126.8V1133M1623.5 1127.6V1133M1625.5 1122.4V1133M1626.5 1118.3V1133M1629.5 1117V1133M1633.5 1119.6V1133M1635.5 1121.4V1133M1636.5 1116.2V1133M1639.5 1115.4V1133M1642.5 1122.9V1133M1644.5 1124.1V1133M1649.5 1127V1133M1651.5 1125.7V1133M1652.5 1125.7V1133M1661.5 1125.7V1133M1664.5 1130V1133M1670.5 1122.8V1133M1672.5 1128.5V1133M1677.5 1126.8V1133M1679.5 1129.4V1133M1685.5 1128V1133M1686.5 1129.9V1133M1688.5 1130.2V1133M1694.5 1125.2V1133M1696.5 1130.2V1133M1698.5 1127.7V1133M1699.5 1130.1V1133M1700.5 1129.8V1133M1703.5 1128.7V1133M1705.5 1126.1V1133M1708.5 1094V1133M1709.5 1119.9V1133M1712.5 1106.9V1133M1713.5 1124.5V1133M1714.5 1102V1133M1717.5 1122V1133M1721.5 1123.3V1133M1725.5 1117.5V1133M1731.5 1091V1133M1734.5 1123.4V1133M1737.5 1121.4V1133M1744.5 1124.9V1133M1747.5 1119.8V1133M1748.5 1122.7V1133M1759.5 1128V1133M1761.5 1129.6V1133M1765.5 1120.1V1133M1767.5 1128.7V1133M1774.5 1130.6V1133M1778.5 1130V1133M1780.5 1128.1V1133M1784.5 1129.4V1133M1786.5 1126.1V1133M1788.5 1127V1133M1789.5 1130V1133M1794.5 1120.6V1133M1798.5 1130.4V1133M1799.5 1124.5V1133M1802.5 1125.4V1133M1806.5 1128.1V1133M1809.5 1126.8V1133M1810.5 1129.1V1133M1811.5 1129V1133M1813.5 1126.6V1133M1822.5 1126.6V1133M1823.5 1122.2V1133M1831.5 1108.2V1133M1832.5 1123.9V1133M1840.5 1118.4V1133M1842.5 1118.1V1133M1844.5 1123.3V1133M1845.5 1112.8V1133M1847.5 1122.7V1133M1851.5 1126.7V1133M1853.5 1124V1133M1855.5 1120.2V1133M1856.5 1124.6V1133M1857.5 1099V1133M1858.5 1122.1V1133M1861.5 1126.2V1133M1865.5 1125.4V1133" stroke="#f7a9a7" stroke-width="1" fill="none"/>
<path d="M5 307.5H1867" stroke="#089981" stroke-width="1" stroke-dasharray="1 2" fill="none"/>
<path d="M5.5 687V695.1M7.5 689.1V691.5M9.5 665.6V689.1M10.5 652.3V676.8M11.5 640.1V663.5M13.5 650.3V652.2M14.5 643.1V655.4M16.5 645.4V649.9M26.5 674.8V693.7M27.5 677.9V699.2M33.5 695.1V709.6M35.5 706.7V726.7M37.5 697.4V771M39.5 648.2V701.5M40.5 621.7V675.9M41.5 600.3V662.5M44.5 617.1V629.8M45.5 600.3V629.9M46.5 600.3V614.3M48.5 591.2V622.8M50.5 591.2V600.2M52.5 587V603.7M54.5 583V606.4M58.5 591.2V603.2M59.5 578.3V608.5M62.5 606V616M65.5 592.7V617M67.5 583V601.1M71.5 613.6V630.3M78.5 641.6V648.1M80.5 625.8V664.6M83.5 659V676.8M85.5 641.9V669.1M87.5 638.1V670.7M91.5 648.1V660.1M92.5 651.2V659.5M93.5 643.1V653.4M100.5 622.8V656.7M109.5 682.9V705.3M110.5 682.9V696.6M113.5 697.2V715.5M115.5 699.3V715.6M117.5 665.6V707.2M118.5 665.6V705.3M121.5 662.5V704.3M123.5 673.8V704.3M127.5 676.8V696.5M130.5 671.5V691.1M131.5 668.6V685.2M132.5 668.6V691.1M134.5 674V679.8M137.5 678.8V697.2M143.5 696.5V706.2M148.5 705.3V749.8M150.5 714V748.4M152.5 688V726.9M161.5 735.4V754.3M163.5 737.3V741.1M166.5 738.4V743.4M169.5 717.6V745.1M171.5 724.5V737.9M176.5 742V767.3M179.5 747.8V772.6M192.5 831.7V948.9M195.5 877.4V944M199.5 881.8V917.5M205.5 913.7V931M209.5 966.4V1003.3M210.5 961V981.6M212.5 945.6V971.3M214.5 951.4V979.8M218.5 972.7V1011.5M221.5 946.4V983.9M223.5 980.4V1030M225.5 988.6V998.2M227.5 959.9V995.4M228.5 941.6V985.7M230.5 930.4V964.6M231.5 902.9V935.3M232.5 902.9V924.7M235.5 929.5V942.5M238.5 815.7V931.8M243.5 858.4V872M247.5 874V905.3M249.5 861.7V904.1M252.5 861.7V881M253.5 866.8V884.8M261.5 926V975.1M262.5 924.7V930.1M266.5 899.2V929.6M267.5 903.3V929.5M270.5 912.5V932.4M274.5 971.1V1003.3M275.5 963.4V983M279.5 946.4V984.5M284.5 902.9V967.8M286.5 923.6V948.9M287.5 920.7V941.8M290.5 854.4V928M291.5 854.4V900.6M292.5 872.2V902.9M293.5 863.2V876M295.5 864.2V887.1M297.5 870.5V883.4M299.5 842.3V874.4M301.5 851.6V866.5M303.5 847.6V862.9M305.5 849.1V862.9M306.5 836.6V852.4M309.5 760V849.2M313.5 757V815.4M317.5 719.6V809.6M318.5 744.2V782M323.5 706.3V760.5M326.5 702.9V723.6M330.5 698.2V737.7M331.5 703.3V728.4M334.5 711V735.9M335.5 674.2V721.6M336.5 672V695M338.5 670.7V690.7M339.5 673.5V690.1M340.5 670.7V721.6M342.5 652.3V679.3M343.5 643.1V661.7M345.5 655.7V658.6M347.5 643.1V657.6M348.5 619.3V654.5M352.5 621.5V642M353.5 567.7V629.6M355.5 614.6V629.4M356.5 586.1V626M357.5 599.8V622.7M359.5 576.9V605.4M362.5 585.9V609.7M366.5 554.5V605.4M368.5 533.1V573.1M370.5 524.9V569.9M372.5 553.7V567.7M373.5 551.2V565.7M377.5 560.6V596.6M381.5 570.8V619.7M384.5 581V617.7M386.5 596.6V615.5M388.5 589.1V601.3M390.5 604.5V617.7M393.5 546.3V617.7M394.5 546.3V566.8M395.5 547.2V562.7M399.5 559V583.4M401.5 571.5V637M405.5 599.7V623M407.5 599V607.6M409.5 570.7V604.7M410.5 575.1V589.4M415.5 592.4V615.3M419.5 608.4V623M423.5 613.1V620.8M424.5 582.2V614.7M427.5 582.2V607.7M432.5 635.7V674M435.5 640V650.6M439.5 651V652.6M440.5 649.3V652.3M441.5 634.5V649.5M444.5 630.6V654.8M447.5 610.5V646.8M450.5 621.9V628.1M452.5 588.9V626.6M454.5 590.7V603.8M460.5 601.5V610.5M461.5 583.5V605.6M462.5 582.2V600.2M465.5 568.7V595.7M466.5 571.7V588.5M467.5 560.5V577.8M469.5 574.4V574.8M470.5 558V600M480.5 628.6V647.2M486.5 630.7V640.6M488.5 630.7V639.7M492.5 614V641.7M496.5 614.1V636.9M497.5 618.2V645.9M499.5 586V624.1M501.5 598.3V639.5M506.5 600.9V639.5M509.5 614V638.4M514.5 625.3V636.7M519.5 636.4V656.1M521.5 605.8V642.1M525.5 604.7V628.1M532.5 614.1V628.1M536.5 633.9V645.5M538.5 625.7V636.7M539.5 623V638.3M545.5 633.7V647.9M548.5 634.9V656.1M551.5 635.2V656.1M554.5 624.8V652.7M561.5 645.7V674.7M562.5 640V654.7M564.5 634.8V654.1M566.5 637V653M567.5 633.2V659.9M570.5 640V658.7M575.5 684.6V691.6M577.5 672.4V698.5M583.5 734.1V754.3M584.5 704.5V741.9M586.5 713.2V729.7M587.5 704.5V745.3M590.5 706.4V724.8M591.5 701.1V722.4M593.5 696.5V722.4M595.5 649.7V702M600.5 677.1V722.4M604.5 681.6V712.2M608.5 670.1V707.1M609.5 664.9V692.3M610.5 658.7V693.1M617.5 546.5V681.4M619.5 602V632.2M622.5 596.7V608.7M625.5 599.8V615.5M626.5 597.3V601M629.5 631V653.6M631.5 630.2V644.9M634.5 634.4V667.6M636.5 644.9V654.9M640.5 659.4V688M643.5 674.9V688M644.5 658.7V702M647.5 659.9V690.5M649.5 667.9V690.5M651.5 670.7V684.5M653.5 669V678.9M656.5 663V686M658.5 652.3V672.1M660.5 666.2V676.5M661.5 658.5V666.4M662.5 665.5V671.1M664.5 617.3V665.6M666.5 630.5V653.6M668.5 612.9V639.5M669.5 613.1V623.4M672.5 605.1V639.5M674.5 612.8V631.9M677.5 612.8V633.8M683.5 620.4V656.6M689.5 661V674M690.5 660.3V664.2M693.5 642.8V665M695.5 629.3V662.4M697.5 642.7V653.8M701.5 618.1V663.2M702.5 605.2V640.8M703.5 592.4V640.8M704.5 602.2V610.6M706.5 587.8V606.9M707.5 577.1V600.2M708.5 577.1V589.2M711.5 577.1V600M718.5 555V600M719.5 537.6V574.4M722.5 538.8V567.8M723.5 541.2V552.7M724.5 545.1V558M727.5 544.3V551.1M728.5 503.1V547.1M736.5 523.5V571.1M737.5 487.8V555.6M744.5 515.9V558M747.5 517.2V532.2M748.5 501.2V540.1M750.5 508.5V524.9M753.5 503.3V516.4M754.5 487.8V512M760.5 505.7V534.7M761.5 516.3V537.5M763.5 542.3V555.7M765.5 540.7V544.8M766.5 531.2V575.8M769.5 572.9V578.2M770.5 566.9V591.1M773.5 569.3V586.4M774.5 566.9V579.2M775.5 541.4V587.3M776.5 553.7V572.4M778.5 550.3V572.7M782.5 551.6V567.7M783.5 559.3V569.2M787.5 574.4V590.3M788.5 563.1V581.1M789.5 563.1V602.6M792.5 595.7V633.3M795.5 570.2V662.5M796.5 570.2V622M797.5 570.2V602.9M800.5 511.3V599.8M801.5 538.5V577.1M802.5 519V585M804.5 431.7V546.2M808.5 383.6V507.5M810.5 377.9V414.4M813.5 393.1V441.2M817.5 445.9V452.7M818.5 433.9V459.8M822.5 387.2V456.4M825.5 394.2V430.1M826.5 391.3V422.7M828.5 380.9V416.6M831.5 404.6V426.9M832.5 413.3V420.4M834.5 410.6V417.7M836.5 420.5V504.9M839.5 443.1V487M841.5 422.1V462.6M845.5 440.5V466.7M847.5 433.2V443.4M851.5 436.4V460.7M854.5 444.5V464.4M856.5 446.5V465.1M860.5 463V479.3M861.5 438V468.5M866.5 439.6V484.4M871.5 445.7V460.9M875.5 461.9V480.1M882.5 496.9V532.4M883.5 496.9V519.6M884.5 496.9V535.2M887.5 509.2V532.1M888.5 513V536.8M891.5 504.1V524.2M892.5 489.1V510.1M893.5 480.4V494.3M895.5 485V495.1M896.5 482.4V488.6M900.5 499.5V514.5M903.5 507.9V515.6M905.5 503.3V513.2M908.5 487.7V519.2M909.5 477.8V488.1M913.5 499.7V509.8M919.5 528.7V530.5M922.5 520.2V542.7M923.5 511.2V522.3M925.5 506.5V519.9M929.5 523.6V538.3M930.5 512.9V533.3M931.5 517.4V527.1M934.5 519.2V530.4M936.5 542.2V571.8M943.5 563.8V624.3M945.5 587.9V609.6M948.5 603.1V617.7M951.5 587.6V622.1M956.5 640.7V657.8M962.5 637.1V716.6M966.5 696.5V706.6M968.5 619.9V700.5M970.5 623.3V633M973.5 606.4V630.9M975.5 598.9V622.8M978.5 610.2V628.8M979.5 609.3V622M981.5 551.8V613.2M982.5 546.3V571.2M984.5 595.8V609.7M987.5 595.1V612.1M990.5 601.6V629.1M991.5 589.8V613.2M995.5 600.4V611.2M996.5 592.9V604.4M1000.5 511.3V603.6M1003.5 533.7V592.5M1004.5 546.1V565.8M1005.5 506.2V551.6M1009.5 528.7V540.1M1010.5 519.3V531.3M1012.5 511.3V524.1M1013.5 492.2V541.5M1017.5 471.5V529.2M1020.5 487.2V527.3M1021.5 488.6V501.1M1023.5 492.8V512.9M1027.5 482.1V503.5M1030.5 464V517M1031.5 455.5V471.3M1033.5 460.9V475.7M1038.5 413.9V473.6M1042.5 405.8V450.5M1046.5 417.3V458M1047.5 429.8V458.7M1048.5 425.5V433.9M1051.5 396.6V432.5M1052.5 400.3V415.7M1055.5 375.1V405.5M1056.5 330.2V384.1M1063.5 396.6V439.7M1066.5 402.7V437.2M1069.5 404.6V420.1M1072.5 423.9V436.8M1073.5 422.3V429.1M1076.5 415.2V424.5M1077.5 407.8V427.2M1078.5 408.7V416M1080.5 374.3V423.1M1082.5 392.7V399.9M1084.5 366.6V404.6M1090.5 370.5V385.3M1092.5 366.6V388.7M1094.5 366.7V400.5M1097.5 369.8V405.2M1099.5 380.6V390.1M1111.5 412.3V422M1114.5 395.3V427.8M1117.5 396.7V420.1M1120.5 391.5V405.1M1122.5 384.4V432M1132.5 333.9V425M1135.5 325V369.6M1138.5 303.2V354.7M1139.5 303.8V335.9M1140.5 296.7V309M1144.5 310.1V340.1M1145.5 314.7V325.1M1148.5 283.4V327.2M1151.5 300.9V333.9M1152.5 295.8V313.6M1161.5 395.9V413.6M1162.5 383.2V403.3M1165.5 301.2V389.2M1169.5 276.8V352.4M1170.5 279.7V324.2M1173.5 296V331M1174.5 274.4V338.4M1177.5 297.3V305.9M1180.5 283.8V312M1182.5 283.4V333.9M1183.5 269.9V298.3M1184.5 247.7V275.8M1186.5 255.1V266M1187.5 248.2V275.4M1191.5 256.2V293.8M1196.5 218V283.4M1197.5 218V248.3M1199.5 224.5V283.4M1200.5 218V248.4M1203.5 201.6V240.3M1205.5 206.5V237.4M1206.5 201.6V240.3M1208.5 145.1V212.8M1210.5 172.6V203.1M1212.5 128.6V172.8M1217.5 143.3V208.7M1219.5 164.1V226.9M1222.5 151.1V189M1223.5 177.8V185.8M1225.5 156.6V183.8M1227.5 279.9V292M1232.5 325.8V351.7M1234.5 292.3V327.4M1238.5 338.8V350.4M1239.5 301.2V347.7M1240.5 339.8V357.7M1244.5 440V592.9M1245.5 490.3V577.2M1248.5 483.7V551.1M1249.5 483.1V574.3M1252.5 511.3V577.5M1256.5 616.2V641.4M1257.5 597.4V644.4M1262.5 627.1V709.1M1264.5 555.5V640.5M1265.5 527.8V560.8M1266.5 453.3V552.3M1268.5 456.4V496.4M1270.5 486.7V504.1M1275.5 529.6V580.2M1277.5 516.2V564.4M1281.5 516.2V580.2M1284.5 556V609M1291.5 718.4V778.6M1294.5 719.9V766.5M1295.5 731.2V822.6M1296.5 723.1V817.7M1297.5 700.2V752.8M1300.5 675.2V764M1301.5 669V734M1305.5 676.2V709.4M1307.5 639.5V695.2M1308.5 634.1V662.8M1310.5 622.6V654.5M1317.5 649.1V710M1320.5 643.7V695M1322.5 658.7V705M1327.5 674.8V688.3M1330.5 658.7V724.9M1331.5 658.7V724.9M1336.5 696.3V753.4M1338.5 568.1V724.4M1339.5 584.9V621.2M1340.5 567.6V662.4M1344.5 613.9V679.7M1346.5 624.1V672.3M1349.5 625.3V678.5M1353.5 645.7V678.5M1355.5 654.2V673.6M1356.5 599V668.6M1357.5 600V668.6M1359.5 612.9V638.5M1366.5 565.9V661.8M1369.5 539.4V602.5M1370.5 560.2V585.7M1373.5 556.8V580.7M1374.5 489.4V569.3M1376.5 483.1V511.2M1379.5 498V532.8M1383.5 503.2V519.4M1385.5 461.5V512.1M1391.5 511.3V530.2M1393.5 511.3V519M1398.5 519.5V553.3M1399.5 519.5V544.9M1402.5 478.1V543.3M1405.5 493.9V530.5M1406.5 508.1V519.5M1407.5 479.7V520.7M1411.5 510V522.9M1415.5 530.7V546M1419.5 551.1V568M1420.5 546V561.7M1422.5 478.1V554.6M1423.5 513.9V569.8M1424.5 486V518.7M1430.5 514.5V527.5M1432.5 519.7V527.7M1435.5 502.9V539.4M1439.5 516.9V539.4M1443.5 491.8V529M1444.5 466.5V498.5M1452.5 528.6V546M1453.5 502.9V546M1458.5 512.9V546.3M1461.5 512.9V547.7M1462.5 482.1V534.9M1466.5 509.4V511.3M1469.5 496V512.8M1470.5 494.1V522.8M1471.5 486.4V503.9M1473.5 491.8V506M1474.5 492V496.2M1477.5 488.3V499.6M1478.5 463.2V499.6M1479.5 466.6V480M1486.5 451.2V495.3M1487.5 461.4V478.9M1490.5 451.2V478.8M1492.5 449.9V495.3M1495.5 458.9V494.7M1499.5 469.6V478.4M1501.5 471.8V491.1M1503.5 451.2V491.1M1505.5 461.1V491.1M1510.5 492.3V504M1512.5 482.4V502.4M1513.5 483V488.2M1516.5 476.8V488.9M1517.5 479V481.5M1519.5 509.3V523.8M1521.5 493.9V517.8M1523.5 493.7V508.1M1527.5 496.2V498.8M1529.5 463.7V496.3M1532.5 451.2V484.8M1535.5 464.9V488.4M1536.5 469.4V478.3M1538.5 459.7V498.2M1539.5 459.7V477.2M1540.5 448.7V466.7M1543.5 443.8V461M1545.5 437.4V453.5M1548.5 429.9V442.8M1551.5 438.1V444M1552.5 442.4V443.2M1555.5 434.1V451.2M1556.5 430.9V451.2M1557.5 378.6V437.3M1560.5 370.9V407.3M1565.5 361.6V400M1569.5 379V387.1M1570.5 360.8V395.8M1573.5 378.8V396.1M1574.5 384.8V400.2M1578.5 391.5V408.5M1579.5 378.6V409.9M1582.5 381.5V392.9M1583.5 381.5V390.9M1586.5 384.3V401.1M1587.5 388.2V390M1591.5 375.8V397.3M1597.5 394.2V396.6M1599.5 385.7V395.1M1600.5 390.9V398.5M1601.5 356.1V391.2M1605.5 353.3V373.9M1607.5 342.1V365M1608.5 338.8V363M1612.5 338.8V372.9M1614.5 339.8V365.8M1616.5 347.2V355.8M1617.5 331.5V365.8M1618.5 327.4V350.8M1621.5 342.5V351.6M1627.5 345.9V388M1630.5 364.4V383.4M1631.5 364.4V379.6M1634.5 364.4V394.7M1638.5 391.1V419.9M1640.5 375.8V402.3M1643.5 389.5V401.7M1646.5 343V396.6M1647.5 345V365.4M1648.5 351V390M1653.5 361.7V380M1655.5 366.9V372.9M1656.5 357.3V375.8M1657.5 353V377.2M1659.5 364V365.7M1660.5 358.2V368.3M1662.5 350V366.6M1665.5 349.3V361.7M1666.5 346.3V363M1668.5 345.8V348.8M1669.5 343V348M1673.5 360.8V373.3M1674.5 348.7V361.1M1675.5 350.5V377.2M1678.5 368.7V383.1M1682.5 365.8V380M1683.5 369.6V373.6M1687.5 375.5V379.6M1690.5 374.4V380M1691.5 357.3V374.4M1692.5 350.1V361.2M1695.5 355.5V359M1701.5 348.2V361M1704.5 350.6V358.2M1707.5 348.7V388.6M1711.5 382.8V385.8M1716.5 395V409M1718.5 377.9V411.2M1720.5 368.7V407.9M1722.5 368.7V393.3M1724.5 371.4V390.2M1726.5 368.8V380M1727.5 364.4V379.8M1729.5 370.8V375.1M1730.5 369.7V376.5M1731.5 353.5V369.9M1733.5 327.4V357.8M1735.5 341.1V359.6M1738.5 344.7V354.4M1739.5 327.4V344.8M1740.5 306.6V341.9M1742.5 311.3V320.6M1743.5 305.4V320.1M1746.5 315.6V341.6M1750.5 311.7V331.8M1751.5 323.3V351.6M1752.5 320.6V331.3M1753.5 311.7V327.4M1756.5 323.1V331.4M1757.5 314.6V334.5M1760.5 314.6V330.2M1763.5 321.5V329.3M1764.5 320.4V323.1M1768.5 317.4V336.3M1769.5 321.7V333.3M1770.5 307.4V323.8M1772.5 314.4V316.6M1773.5 307.4V318.8M1776.5 313.2V315M1777.5 304.3V313.2M1781.5 307.7V312.5M1782.5 301.8V310.5M1785.5 305V313.1M1790.5 310.8V315.2M1792.5 307.4V312.4M1793.5 305V309.2M1796.5 294.9V308.9M1797.5 259.5V301.3M1801.5 259.1V280.4M1803.5 274.8V275.2M1805.5 273.1V277.4M1807.5 280.7V283.4M1814.5 296.7V298.2M1815.5 289.8V297.3M1817.5 291.4V295.3M1818.5 288.9V294.6M1819.5 289.3V291.9M1821.5 269V290.5M1824.5 275.1V276M1826.5 261.3V275.4M1827.5 254.9V264.5M1828.5 244.8V258.4M1830.5 234.7V255.7M1834.5 236.5V238.7M1835.5 236.4V236.9M1836.5 205V236.4M1838.5 215.4V230.6M1839.5 205V215.6M1843.5 234.6V251.9M1848.5 268.2V291.8M1849.5 266.2V278.8M1852.5 290.1V311.7M1857.5 329.6V351.5M1860.5 318.1V331.5M1862.5 317V329M1864.5 311.3V321.3M1866.5 297.7V310.2" stroke="#089981" stroke-width="1" fill="none"/>
<path d="M6.5 689.3V691.8M15.5 648.4V651.3M18.5 645.2V664.6M19.5 651.5V673.7M20.5 663.5V693.1M22.5 675.4V688.2M23.5 680.9V693.1M24.5 689V699.2M28.5 683.5V692.8M29.5 690.1V704.1M31.5 702V719.6M32.5 695.1V722.2M36.5 680.9V725.9M43.5 610V653.2M49.5 598.2V612.8M53.5 585.3V617.7M56.5 581V611.5M57.5 598V604.4M61.5 584.8V624.8M63.5 593.2V624.8M66.5 590.7V608.5M69.5 583V619.7M70.5 607.5V619.9M72.5 613.6V638.1M74.5 627.3V659.5M75.5 627.9V657.3M76.5 636.8V648.2M79.5 625.8V689M82.5 631.9V680.9M84.5 633V663.6M88.5 646.9V660.6M89.5 643.1V664.6M95.5 646.5V652.1M96.5 650.4V654.9M97.5 654.2V659.5M98.5 650V659.5M101.5 630.3V672.7M102.5 629.9V655.8M104.5 652.6V706.4M105.5 679.3V687.2M106.5 681.8V697.4M108.5 682.9V691.9M111.5 686.7V724.7M114.5 703.3V720.5M119.5 665.6V705M122.5 673.7V686M124.5 673.7V688.9M126.5 660.5V704.3M128.5 684.4V691.1M135.5 669.7V693.1M136.5 670.7V685.2M139.5 678.3V689.7M140.5 684.9V705.4M141.5 704V728.8M144.5 699.6V750.2M145.5 721.6V744.7M147.5 732.8V737.1M149.5 688V749.2M153.5 689V699.2M154.5 691.3V725.7M156.5 713.1V740.1M157.5 734.9V744.1M158.5 736.4V744.1M160.5 734.6V745.2M162.5 733V751M165.5 729.8V746.5M167.5 732.9V753.5M170.5 717.6V739.7M173.5 726.4V757.4M174.5 742V766.5M175.5 747V759.8M178.5 744.9V756.5M180.5 742V750.9M182.5 742V754.1M183.5 742V793.9M184.5 757.9V793.9M186.5 781.1V795.1M187.5 779.4V792.8M188.5 788.7V856.9M189.5 798.8V828M191.5 812.1V900.5M193.5 857.9V924M196.5 894.1V913.8M197.5 904.1V935.5M200.5 866.5V927.1M201.5 890.7V907.8M202.5 905.6V927.1M204.5 896.8V933.1M206.5 915.3V981.4M208.5 922.2V1008.2M213.5 941.6V970.1M215.5 960.4V992.4M217.5 958.5V1015.4M219.5 958.5V989.3M222.5 948.7V1040.9M226.5 968.2V997.8M234.5 907.7V945M236.5 907.7V965.8M239.5 831.3V847.5M240.5 846.7V863.2M241.5 850.1V883.5M244.5 847.2V874.6M245.5 847.2V892M248.5 872.6V898.1M251.5 861.7V888.4M254.5 870.1V931.9M256.5 864.1V926M257.5 900.5V1000.9M258.5 939.1V973.3M260.5 919.8V979.9M264.5 924.9V926.2M265.5 918.6V940.4M269.5 913.4V951.3M271.5 915.7V941.3M273.5 935.5V1003.3M277.5 980.1V988.8M278.5 971.9V988.4M280.5 949.9V979.1M282.5 961.8V968.7M283.5 967V979.1M288.5 915V928.5M296.5 859.3V878.3M300.5 859.9V866.5M304.5 824.2V862.9M308.5 824.9V862.9M310.5 793V821.5M312.5 719.6V848.4M314.5 754.7V809.6M316.5 769.1V786.5M319.5 719.6V758.1M321.5 740.3V765M322.5 749.2V760.5M325.5 717.8V740M327.5 711.6V735.8M329.5 719.5V740M332.5 704.9V721.9M344.5 650.4V664.6M349.5 607.8V633.3M351.5 623V642.1M360.5 591.7V638.1M361.5 576.9V610.7M364.5 587.8V599.7M365.5 599.3V612.6M369.5 554V597.3M374.5 551.4V601.7M376.5 563.3V609.5M378.5 570.8V619.7M380.5 607.4V617.1M382.5 590.7V617.7M385.5 591.7V617.7M389.5 593.7V611.2M391.5 604.2V605.7M397.5 546.3V617.7M398.5 558.5V604.5M402.5 558.5V600.7M403.5 595.7V617.8M406.5 589.8V618.4M411.5 576.1V600M413.5 588.3V612.4M414.5 605.5V615.3M416.5 600.5V611.6M418.5 602.4V614.2M420.5 602.6V623M422.5 608V622M426.5 582.9V594.8M428.5 590.3V657.2M430.5 597.5V704.5M431.5 648.5V658.2M434.5 646.4V650.5M436.5 634.4V656.1M437.5 649.4V656.1M443.5 630.6V647.1M445.5 640.1V654.8M448.5 607.7V631.2M449.5 614.7V633.1M453.5 587.9V609.8M456.5 582.9V595.1M457.5 589.7V612.8M458.5 599.8V606.1M463.5 591.3V602.8M471.5 574.1V614.6M473.5 597.5V620.4M474.5 597.5V612.9M475.5 606.3V616.9M476.5 614.8V633.1M478.5 626.7V647.2M479.5 602.6V647.2M482.5 629.9V642.9M483.5 620.4V638.6M484.5 635.8V645.9M487.5 624.2V639.1M489.5 627.1V632.9M491.5 632.4V635.4M493.5 602.6V639.4M495.5 620.6V644.9M500.5 602.2V625.9M502.5 587.3V618.4M504.5 605.8V639.5M505.5 597.8V627.2M508.5 605.1V632.2M510.5 621.6V639.5M512.5 621.2V630M513.5 620.2V635.1M515.5 627.9V643.4M517.5 637.9V657.4M518.5 628.1V657.4M522.5 602.6V633.3M523.5 615.3V623.3M526.5 603.5V621.9M527.5 612.5V618.6M528.5 612.9V621.2M530.5 612.1V621.1M531.5 602.6V623.7M534.5 615.3V638.2M535.5 634.2V648.5M540.5 623V637.3M541.5 629.1V632.4M543.5 631.2V637.2M544.5 623V674M547.5 623V647.9M549.5 638.9V652.6M552.5 629.4V645.1M553.5 623V645.8M556.5 625.6V650.8M557.5 623V670.6M558.5 648.6V671.8M560.5 643.7V688M565.5 633.2V649.1M569.5 628.1V648.5M571.5 629.3V649.4M573.5 641.4V699.4M574.5 658.7V699.4M578.5 678.1V716M579.5 705.1V723.7M580.5 699.4V727.8M582.5 723.8V754.3M588.5 704.5V729.3M592.5 686.7V708.5M596.5 668.2V699.2M597.5 672.6V702M599.5 668.9V710.1M601.5 697.4V708.8M603.5 668.9V712.3M605.5 679.6V707.1M606.5 680.6V707.1M612.5 662.4V667.1M613.5 658.7V677M614.5 643.4V689.2M616.5 665.5V682M618.5 625.1V649.7M621.5 598.3V608.1M623.5 591.1V607.3M627.5 598.6V649.4M630.5 617.9V643.8M632.5 630.9V647.6M635.5 634.4V656.7M638.5 645.2V670.4M639.5 652.9V662M642.5 658.7V688.7M645.5 658.7V695.5M648.5 676.4V689.8M652.5 659.9V690.5M655.5 661.2V687.1M657.5 671.4V676.5M665.5 605.1V641.8M670.5 605.1V616.6M673.5 612.7V634.2M675.5 612.8V631.2M678.5 620.5V622.3M679.5 616.4V639.5M681.5 620.4V661.2M682.5 638.4V657.7M685.5 624V646.7M686.5 634.6V658.8M687.5 658.3V665.1M691.5 633.2V663.7M694.5 638.9V668.7M698.5 648.8V670.1M699.5 656.5V670.1M710.5 577.1V620.4M712.5 581.4V600.5M714.5 589.9V602.3M715.5 587.5V606.4M716.5 598.1V606.4M720.5 552.5V577.1M726.5 546V548.3M729.5 523.5V538.8M731.5 523.5V552.4M732.5 540.4V573.3M733.5 543.9V561.8M735.5 551V563.6M739.5 503.8V549M740.5 500.4V544.1M741.5 513.5V527.7M743.5 515.9V534.7M745.5 520.6V544.9M749.5 499.6V515.3M752.5 498V531.2M756.5 487.8V521M757.5 502.6V527M758.5 505.7V561.8M762.5 516.3V558.4M767.5 539.1V580.5M771.5 573.7V602.6M779.5 550.3V587.3M780.5 554.8V566.1M784.5 559.5V582.2M786.5 559.8V595.8M791.5 574.9V662.5M793.5 609.4V629.7M799.5 583.5V611.3M805.5 483.2V527.2M806.5 488.7V527.2M809.5 377.2V405.5M812.5 371.1V435.1M814.5 403.2V444.7M815.5 428.5V459.5M819.5 433.2V468.5M821.5 423.7V473.1M823.5 371.1V442.8M827.5 385.5V424.5M830.5 404.6V421.8M835.5 410.7V480.3M838.5 443.9V485.1M840.5 444.8V469.4M843.5 442.6V451.3M844.5 440.7V459.3M848.5 437.1V437.8M849.5 436.4V459.3M852.5 447.5V463.3M853.5 447.1V463.9M857.5 446.6V486.2M858.5 451.6V493M862.5 436.4V473.3M864.5 461.7V494.7M865.5 474.8V495.4M867.5 456.2V461.4M869.5 457.5V465.1M870.5 460.1V465.1M873.5 456.5V471M874.5 461.9V471M877.5 466.5V487.4M878.5 461.9V478.2M879.5 477.9V517.3M880.5 497.4V530.3M886.5 496.9V524.3M890.5 496.9V519M897.5 476.2V495M899.5 493.8V516.1M901.5 499.3V513.5M904.5 493.8V516.1M906.5 503.6V505.7M910.5 477.8V496.9M912.5 495.9V517.2M914.5 502V536.8M916.5 518.1V522.3M917.5 510.1V524.2M918.5 508.1V535.9M921.5 528.9V551.1M926.5 506.5V541.6M927.5 524.1V535M932.5 512.9V530.3M935.5 520.7V548.7M938.5 538.9V548.4M939.5 546.7V553.2M940.5 549.9V594.3M942.5 584.4V599.1M944.5 575.8V601.8M947.5 592.7V627.5M949.5 586.1V613.7M952.5 601.8V643.2M953.5 642.1V657.8M955.5 618V652M957.5 628.1V655.2M958.5 648.6V657.8M960.5 648.5V724.5M961.5 676.5V726.2M964.5 674.7V710.3M965.5 702V710.3M969.5 600.4V633.2M971.5 608.5V631.6M974.5 612.7V630M977.5 619.4V633.9M983.5 560.6V608.3M986.5 594.9V612.8M988.5 594.1V622.7M992.5 586.1V621.1M994.5 592.9V611M997.5 588.1V598.4M999.5 586.1V605.7M1001.5 545.1V575.6M1007.5 506.2V530M1008.5 496.9V541.5M1014.5 510.2V541.5M1016.5 526.2V527.2M1018.5 512.8V539.1M1022.5 471.5V512.9M1025.5 492.4V508.7M1026.5 498.4V512.9M1029.5 457.1V544.7M1034.5 455.5V471.2M1035.5 455.5V485.8M1036.5 466.3V479.1M1039.5 436.8V456.1M1040.5 404.6V451.3M1043.5 428.5V458.7M1044.5 421.5V458.7M1049.5 417.3V443.3M1053.5 399V415.7M1057.5 304.9V403M1059.5 358.8V418.1M1060.5 404.2V426.4M1061.5 399.6V433.5M1064.5 372.7V444.4M1065.5 411.6V444.4M1068.5 404.6V424.2M1070.5 413.8V446M1074.5 415.9V430.1M1081.5 388.8V402.4M1085.5 367V393.2M1086.5 370.5V403.8M1088.5 380.9V393M1089.5 367.8V387.3M1093.5 373.3V394.8M1095.5 372.7V383.5M1098.5 372.2V398.4M1101.5 369.8V388.6M1102.5 366.6V390.1M1103.5 373.7V401.7M1105.5 390.4V429M1106.5 398.8V408.5M1107.5 396.7V410.3M1109.5 390.4V425.3M1110.5 411.8V437.9M1113.5 411.2V427.9M1115.5 388.3V409.3M1118.5 384.4V403M1119.5 400.5V420.1M1123.5 384.4V407.9M1124.5 401.2V403.7M1126.5 395.5V407.6M1127.5 397.2V408.1M1128.5 405.2V420.3M1130.5 405.2V424.1M1131.5 411.8V433.5M1134.5 344.5V377M1136.5 349.9V366.8M1141.5 305.9V312.9M1143.5 296.7V354.7M1147.5 310.1V342.8M1149.5 307.4V315M1153.5 296.8V409.7M1154.5 354.4V379.1M1156.5 365.5V407.8M1157.5 354.7V395.4M1158.5 394.3V400.6M1160.5 397.4V407.8M1164.5 386V418.6M1166.5 325.8V384.4M1167.5 336.2V368M1171.5 293.5V309.4M1175.5 286.5V305.5M1178.5 283.4V309.8M1179.5 286V306.5M1188.5 247.7V261M1190.5 258.1V293.8M1192.5 261.3V288.8M1193.5 263.4V276.7M1195.5 240.3V280.2M1201.5 219.6V236.4M1204.5 201.6V222.4M1209.5 119.9V198M1213.5 120.9V135.3M1214.5 115.4V152.6M1216.5 119.9V199.5M1218.5 155.7V198.7M1221.5 164.8V216.5M1226.5 171V333.9M1229.5 284.4V347.2M1230.5 320.6V351.7M1231.5 313.1V351.7M1235.5 317.7V351.3M1236.5 335.3V352M1242.5 342.2V454.9M1243.5 394.7V604M1247.5 483.1V585.8M1251.5 498.5V558.2M1253.5 489.7V573.6M1255.5 553.7V642.5M1258.5 603.4V665.3M1260.5 562.6V668M1261.5 562.6V746.4M1269.5 473.9V542.7M1271.5 498V532.6M1273.5 507.9V570.2M1274.5 511.2V592.4M1278.5 516.2V559.2M1279.5 545.4V590.7M1282.5 542.6V562.7M1283.5 544.6V580.8M1286.5 566.4V698.4M1287.5 599V698.4M1288.5 664.8V668.1M1290.5 666.3V786.4M1292.5 652V796.1M1299.5 675.2V786.2M1303.5 638.8V697.6M1304.5 659.3V719.9M1309.5 615.6V671.9M1312.5 625.5V666.2M1313.5 627.8V675.2M1314.5 650.7V661.4M1316.5 643.7V721.6M1318.5 667V711.9M1321.5 658.7V671.8M1323.5 664.6V683.1M1325.5 682.5V690.5M1326.5 671V701.6M1329.5 675.8V706.8M1333.5 679.9V766.3M1334.5 688.5V751.1M1335.5 711.7V747.6M1342.5 552.6V671.9M1343.5 613.9V691.8M1347.5 619.1V691.8M1348.5 617.9V672.6M1351.5 613.9V666.6M1352.5 655.2V678.5M1360.5 602.5V627.5M1361.5 622.2V668.6M1362.5 643.1V664.8M1364.5 656.1V663.4M1365.5 642.4V664.4M1368.5 587.9V617.2M1372.5 565.1V581.8M1377.5 483.1V513.3M1378.5 502.8V542.7M1381.5 498V518.5M1382.5 512.6V528.3M1386.5 449.9V506.3M1387.5 472.6V500.9M1389.5 488.2V523.7M1390.5 505.2V546M1394.5 509V533.8M1395.5 525.6V542.7M1397.5 528V555.2M1401.5 528.6V559.3M1403.5 508.6V520.6M1408.5 500.3V518.1M1410.5 507.2V527.7M1412.5 518.6V532.2M1414.5 506.3V534.5M1416.5 531.1V582.5M1418.5 546V571M1426.5 502.8V509.4M1427.5 498.8V579.1M1428.5 510V529M1431.5 518.3V539.4M1433.5 519.7V530.1M1436.5 516.2V537.3M1437.5 523.1V531M1440.5 514.8V523.3M1441.5 518.3V532.9M1445.5 488.2V496M1447.5 491.3V508.8M1448.5 501.7V526.1M1449.5 515.3V541.9M1451.5 531.6V540.6M1454.5 504.7V519.3M1456.5 517.7V532.3M1457.5 519.2V557.6M1460.5 516.9V535.7M1464.5 466.5V522.8M1465.5 490.1V522.8M1467.5 509.5V517.6M1475.5 491V506M1480.5 467.7V477.8M1482.5 474.2V499.6M1483.5 481.2V486.1M1484.5 469.6V499.6M1488.5 467.4V479.8M1491.5 461.1V478.5M1493.5 461.4V471.3M1496.5 461.8V477.8M1497.5 449.9V481M1500.5 467.9V483.2M1504.5 470.2V484.1M1506.5 457.3V482M1508.5 478.1V491.8M1509.5 479.7V512.4M1514.5 476.8V487M1518.5 481.2V518.2M1522.5 501.5V517.8M1525.5 481.1V501.9M1526.5 496.1V498.6M1530.5 463.5V479.3M1531.5 473.9V496.8M1534.5 459.7V486.9M1542.5 441.2V453.6M1544.5 441.2V476.8M1547.5 435.8V459.7M1549.5 430.5V444M1553.5 428.4V451.2M1558.5 388.3V431.3M1561.5 365.8V390.8M1562.5 382.1V402.1M1564.5 390.6V409.9M1566.5 358.7V383.3M1568.5 379.2V394.6M1571.5 378.6V396.2M1575.5 385.7V394.4M1577.5 394.2V399.1M1581.5 382.4V404.2M1584.5 381.5V397.8M1588.5 384.2V390.6M1590.5 383.7V400M1592.5 384.1V386.2M1594.5 385.6V392.3M1595.5 384.3V392.7M1596.5 391.9V395.9M1603.5 348.6V372.8M1604.5 338.8V382.9M1609.5 344.4V369M1610.5 346.5V370M1613.5 346V372.9M1620.5 334.6V354.4M1622.5 340.8V350M1623.5 347.4V354.4M1625.5 349.2V398.5M1626.5 345.9V388.1M1629.5 366.1V387.5M1633.5 371V400M1635.5 378.1V401.7M1636.5 388.6V403.1M1639.5 395V405.7M1642.5 385.1V398.9M1644.5 378.7V405.7M1649.5 343.8V357.9M1651.5 357.8V367.5M1652.5 358.7V378.7M1661.5 356.9V372.3M1664.5 350.6V355.3M1670.5 346.2V346.5M1672.5 346.5V365.7M1677.5 359.7V383.2M1679.5 374V378.4M1681.5 375.1V385.7M1685.5 365.8V380M1686.5 368.6V377.3M1688.5 373.9V380M1694.5 353.9V358.5M1696.5 355.7V363M1698.5 351.4V359.4M1699.5 343V365.8M1700.5 358.5V364.7M1703.5 353.1V358.9M1705.5 350.4V372.3M1708.5 362.5V365.4M1709.5 365.1V392.4M1712.5 374.3V405.7M1713.5 391.4V408.3M1714.5 401.4V419.9M1717.5 397.6V413.1M1721.5 381.9V411.4M1725.5 372.8V380M1734.5 346.5V362M1737.5 331.6V353.7M1744.5 303.2V328.8M1747.5 304.6V335.7M1748.5 312V333M1755.5 311.7V338.7M1759.5 314.6V326.7M1761.5 314.6V327.8M1765.5 318.7V338.8M1767.5 327.4V336.2M1774.5 310.3V315.3M1778.5 306.4V313.1M1780.5 308.2V313.1M1784.5 308.7V312M1786.5 307V310.2M1788.5 309.3V317.4M1789.5 307.4V315.9M1794.5 293.2V308.9M1798.5 263.6V270.8M1799.5 261.7V271.6M1802.5 266.2V281.8M1806.5 273.3V286.1M1809.5 282V284.8M1810.5 282.6V301.8M1811.5 288.4V301.8M1813.5 287.5V301.8M1822.5 270.2V275.9M1823.5 270.4V278.7M1831.5 234.2V236.4M1832.5 227.7V246.4M1840.5 211.1V222.4M1842.5 220.2V246.6M1844.5 223.5V241M1845.5 233.2V244.8M1847.5 243.1V288.8M1851.5 270.5V296.4M1853.5 288.9V304.7M1855.5 301.5V361.6M1856.5 307.4V357.2M1858.5 318V343M1861.5 318V323.8M1865.5 311V315" stroke="#f23645" stroke-width="1" fill="none"/>
<!-- gold icon -->
<circle cx="31.5" cy="26.2" r="13.4" fill="#d59f00"/>
<path d="M29.3 20.1H33.8L36.6 25H26.5Z M24.5 26.2H28.4L31.1 31H21.1Z M34.5 26.2H38.4L42 31H32Z" fill="#fff"/>
<!-- legend pill -->
<path d="M346 13H363V39.7H346A13.35 13.35 0 0 1 346 13Z" fill="rgba(8,153,129,0.14)"/>
<path d="M363 13H380A13.35 13.35 0 0 1 380 39.7H363Z" fill="rgba(255,152,0,0.32)"/>
<circle cx="349.9" cy="26.1" r="6" fill="#089981"/>
<!-- watermark -->
<g fill="#131313">
<path d="M23.1 1089.4H41V1111.6H31.3V1098.3H23.1Z"/>
<circle cx="49" cy="1094" r="4.9"/>
<path d="M56.6 1089.4H67.6L59.8 1111.6H49Z"/>
</g>
<!-- settings hexagon -->
<path d="M1907 1146.2H1917L1922.2 1155.2L1917 1164.2H1907L1901.8 1155.2Z" stroke="#131722" stroke-width="1.6" fill="none"/>
<circle cx="1912" cy="1155.2" r="3" stroke="#131722" stroke-width="1.6" fill="none"/>
</svg>
<div id="txt">
<div class="pl" style="top:4.0px">2,978.0</div><div class="pl" style="top:53.8px">2,976.0</div><div class="pl" style="top:103.5px">2,974.0</div><div class="pl" style="top:153.3px">2,972.0</div><div class="pl" style="top:203.1px">2,970.0</div><div class="pl" style="top:252.9px">2,968.0</div><div class="pl" style="top:352.4px">2,964.0</div><div class="pl" style="top:402.2px">2,962.0</div><div class="pl" style="top:451.9px">2,960.0</div><div class="pl" style="top:501.7px">2,958.0</div><div class="pl" style="top:551.5px">2,956.0</div><div class="pl" style="top:601.3px">2,954.0</div><div class="pl" style="top:651.0px">2,952.0</div><div class="pl" style="top:700.8px">2,950.0</div><div class="pl" style="top:750.6px">2,948.0</div><div class="pl" style="top:800.4px">2,946.0</div><div class="pl" style="top:850.1px">2,944.0</div><div class="pl" style="top:899.9px">2,942.0</div><div class="pl" style="top:949.7px">2,940.0</div><div class="pl" style="top:999.4px">2,938.0</div><div class="pl" style="top:1049.2px">2,936.0</div><div class="pl" style="top:1099.0px">2,934.0</div>
<div class="tl" style="left:-4.7px">24</div><div class="tl" style="left:73.3px">08:00</div><div class="tl" style="left:151.3px">09:00</div><div class="tl" style="left:229.3px">10:00</div><div class="tl" style="left:307.3px">11:00</div><div class="tl" style="left:386.3px">12:00</div><div class="tl" style="left:464.3px">13:00</div><div class="tl" style="left:542.3px">14:00</div><div class="tl" style="left:620.3px">15:00</div><div class="tl" style="left:699.3px">16:00</div><div class="tl" style="left:777.3px">17:00</div><div class="tl" style="left:855.3px">18:00</div><div class="tl" style="left:933.3px">19:00</div><div class="tl" style="left:1011.3px">20:00</div><div class="tl" style="left:1090.3px">21:00</div><div class="tl" style="left:1168.3px">22:00</div><div class="tl" style="left:1246.3px">23:00</div><div class="tl" style="left:1324.3px">25</div><div class="tl" style="left:1403.3px">01:00</div><div class="tl" style="left:1481.3px">02:00</div><div class="tl" style="left:1559.3px">03:00</div><div class="tl" style="left:1637.3px">04:00</div><div class="tl" style="left:1715.3px">05:00</div><div class="tl" style="left:1794.3px">07:00</div>
<div class="t" id="t1" style="left:51px;top:15px;font-size:24px;transform:scaleX(0.988);transform-origin:0 0;">Gold Futures</div>
<div class="t" id="t2" style="left:194.5px;top:15px;font-size:24px;">·</div>
<div class="t" id="t3" style="left:205.5px;top:15px;font-size:24px;">1</div>
<div class="t" id="t4" style="left:224.5px;top:15px;font-size:24px;">·</div>
<div class="t" id="t5" style="left:237.2px;top:15px;font-size:24px;transform:scaleX(0.834);transform-origin:0 0;">COMEX</div>
<div class="t" id="dd" style="left:371px;top:17px;font-size:19.5px;font-weight:bold;color:#f57c00;">D</div>
<div class="t" style="left:417px;top:17px;font-size:19.5px;">O<span class="g">2,966.2</span></div>
<div class="t" style="left:505.5px;top:17px;font-size:19.5px;">H<span class="g">2,966.7</span></div>
<div class="t" style="left:594.5px;top:17px;font-size:19.5px;">L<span class="g">2,966.2</span></div>
<div class="t" style="left:679.5px;top:17px;font-size:19.5px;">C<span class="g">2,966.3</span></div>
<div class="t g" style="left:769px;top:17px;font-size:19.5px;transform:scaleX(0.95);transform-origin:0 0;">+0.1 (+0.00%)</div>
<div class="box" style="left:17px;top:50px;width:98px;height:51px;background:#fff;border:1.5px solid #f23645;border-radius:8px;"></div>
<div class="t" style="left:17px;width:98px;text-align:center;top:58px;font-size:18px;font-weight:bold;color:#f23645;letter-spacing:0.9px;text-indent:0.9px">2,966.3</div>
<div class="t" style="left:17px;width:98px;text-align:center;top:79px;font-size:16px;color:#f23645;-webkit-text-stroke:0.3px #f23645;">SELL</div>
<div class="t" style="left:127px;top:66.5px;font-size:15px;color:#2a2e39;">0.1</div>
<div class="box" style="left:160px;top:50px;width:98px;height:51px;background:#fff;border:1.5px solid #2962ff;border-radius:8px;"></div>
<div class="t" style="left:160px;width:98px;text-align:center;top:58px;font-size:18px;font-weight:bold;color:#2962ff;letter-spacing:0.9px;text-indent:0.9px">2,966.4</div>
<div class="t" style="left:160px;width:98px;text-align:center;top:79px;font-size:16px;color:#2962ff;-webkit-text-stroke:0.3px #2962ff;">BUY</div>
<div class="t" style="left:18px;top:116px;font-size:19.5px;">Vol</div>
<div class="t g" style="left:56px;top:116px;font-size:19px;">66</div>
<div class="box" style="left:19px;top:146px;width:42px;height:31px;background:#fff;border:1px solid #e0e3eb;border-radius:5px;"></div>
<svg style="position:absolute;left:19px;top:146px" width="42" height="31" viewBox="19 146 42 31"><path d="M34.5 165L40.5 159L46.5 165" stroke="#131722" stroke-width="1.8" fill="none"/></svg>
<div class="t" style="left:77.5px;top:1086px;font-size:30.5px;font-weight:bold;color:#131313;letter-spacing:0.35px">TradingView</div>
<div class="box" style="left:1868px;top:294px;width:81px;height:46px;background:#089981;border-radius:0 3px 0 0;"></div>
<div class="t" style="left:1868px;width:73px;text-align:right;top:298px;font-size:18px;color:#fff;-webkit-text-stroke:0.3px #fff;">2,966.3</div>
<div class="t" style="left:1881px;top:319px;font-size:18px;color:rgba(255,255,255,0.75);">00:01</div>
<div class="box" style="left:1868px;top:340px;width:81px;height:27px;background:#fff;border:2px solid #f23645;border-radius:0 4px 4px 0;"></div>
<div class="t" style="left:1868px;width:73px;text-align:right;top:344px;font-size:18px;color:#f23645;-webkit-text-stroke:0.3px #f23645;">2,965.9</div>
<div style="position:absolute;left:1868px;top:1107px;width:40px;height:26px;overflow:hidden;"><div class="box" style="left:0;top:0;width:38px;height:30px;background:#fff;border:1.5px solid #f23645;border-radius:0 4px 4px 0;"></div></div>
<div class="t" style="left:1881px;top:1112px;font-size:18px;color:#f23645;-webkit-text-stroke:0.3px #f23645;">21</div>
</div>
</body></html>
